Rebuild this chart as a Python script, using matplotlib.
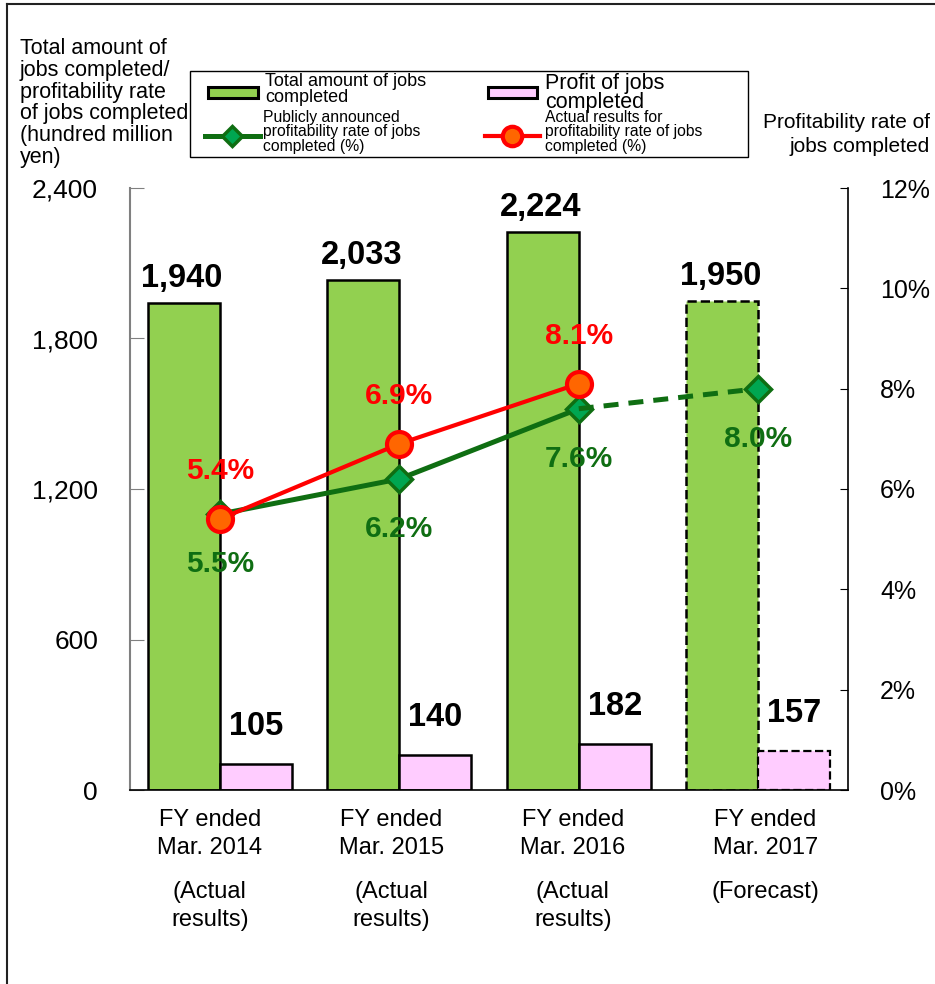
import numpy as np
import matplotlib
matplotlib.use("Agg")
import matplotlib.pyplot as plt
from matplotlib.patches import Rectangle
from matplotlib.lines import Line2D
from matplotlib.ticker import FuncFormatter

# Dane
okresy = ["FY ended\nMar. 2014", "FY ended\nMar. 2015", "FY ended\nMar. 2016", "FY ended\nMar. 2017"]
status = ["(Actual\nresults)", "(Actual\nresults)", "(Actual\nresults)", "(Forecast)"]
kwota_prac = [1940, 2033, 2224, 1950]
zysk_prac = [105, 140, 182, 157]
stopa_plan = [5.5, 6.2, 7.6, 8.0]
stopa_wykon = [5.4, 6.9, 8.1]
prognoza = [False, False, False, True]

W, H = 935, 984
plt.rcParams['font.family'] = ['Liberation Sans', 'DejaVu Sans']
waska = ['Liberation Sans Narrow', 'Liberation Sans', 'DejaVu Sans']

ZIELONY = '#92D050'
ROZOWY = '#FFCCFF'
CIEMNOZIELONY = '#0F6E12'
ROMB = '#00A651'
CZERWONY = '#FF0000'
POMARANCZ = '#FF6600'


def fx(px):
    return px / W


def fy(py):
    return 1 - py / H


fig = plt.figure(figsize=(W / 100, H / 100), dpi=100)
ax = fig.add_axes([fx(130), fy(790), fx(848) - fx(130), fy(188) - fy(790)])
ax2 = ax.twinx()

x = np.arange(len(okresy))
szer = 0.4

# Słupki
for i in x:
    styl = '--' if prognoza[i] else '-'
    ax.bar(x[i] - szer / 2, kwota_prac[i], szer, color=ZIELONY, edgecolor='black',
           linewidth=1.8, linestyle=styl, zorder=2)
    ax.bar(x[i] + szer / 2, zysk_prac[i], szer, color=ROZOWY, edgecolor='black',
           linewidth=1.8 if not prognoza[i] else 1.6, linestyle=styl, zorder=2)
    ax.annotate(f"{kwota_prac[i]:,}", (x[i] - szer / 2, kwota_prac[i]),
                xytext=(-2, 9), textcoords='offset pixels', ha='center', va='bottom',
                fontsize=23.5, fontweight='bold', family=waska)
    ax.annotate(f"{zysk_prac[i]:,}", (x[i] + szer / 2, zysk_prac[i]),
                xytext=(0, 22), textcoords='offset pixels', ha='center', va='bottom',
                fontsize=23.5, fontweight='bold', family=waska)

ax.set_xlim(-0.5, len(okresy) - 0.5)
ax.set_ylim(0, 2400)
ax.set_yticks(np.arange(0, 2401, 600))
ax.yaxis.set_major_formatter(FuncFormatter(lambda v, p: f"{int(v):,}"))
ax.tick_params(axis='y', direction='in', length=10, pad=23, labelsize=19, color='#808080')
ax.tick_params(axis='x', length=0, labelbottom=False)
ax.spines['top'].set_visible(False)
ax.spines['right'].set_visible(False)
ax.spines['left'].set_color('#808080')
ax.spines['left'].set_linewidth(1.5)
ax.spines['bottom'].set_linewidth(1.2)

# Linie wskaźników
n = len(stopa_wykon)
ax2.plot(x[:n], stopa_plan[:n], color=CIEMNOZIELONY, lw=3.6, marker='D', ms=13,
         mfc=ROMB, mec=CIEMNOZIELONY, mew=2.5, zorder=3)
ax2.plot(x[n - 1:], stopa_plan[n - 1:], color=CIEMNOZIELONY, lw=3.6, ls=(0, (3, 2)),
         marker='D', ms=13, mfc=ROMB, mec=CIEMNOZIELONY, mew=2.5, markevery=[1], zorder=3)
ax2.plot(x[:n], stopa_wykon, color=CZERWONY, lw=3, marker='o', ms=18,
         mfc=POMARANCZ, mec=CZERWONY, mew=3, zorder=4)

for i, v in enumerate(stopa_plan):
    ax2.annotate(f"{v:.1f}%", (x[i], v), xytext=(0, -50), textcoords='offset pixels',
                 ha='center', va='center', fontsize=21.5, fontweight='bold',
                 color=CIEMNOZIELONY, family=waska)
for i, v in enumerate(stopa_wykon):
    ax2.annotate(f"{v:.1f}%", (x[i], v), xytext=(0, 48), textcoords='offset pixels',
                 ha='center', va='center', fontsize=21.5, fontweight='bold',
                 color=CZERWONY, family=waska)

ax2.set_ylim(0, 12)
ax2.set_yticks(np.arange(0, 13, 2))
ax2.yaxis.set_major_formatter(FuncFormatter(lambda v, p: f"{int(v)}%"))
ax2.tick_params(axis='y', direction='in', length=6, pad=23, labelsize=18)
for t in ax2.get_yticklabels():
    t.set_family(waska)
for s in ['top', 'left', 'bottom']:
    ax2.spines[s].set_visible(False)
ax2.spines['right'].set_linewidth(1.2)

# Podpisy kategorii
przes = [-10, -8, -6, 7]
for i in x:
    ax.annotate(okresy[i], (x[i], 0), xycoords=('data', 'axes fraction'),
                xytext=(przes[i], -19), textcoords='offset pixels',
                ha='center', va='top', fontsize=17, linespacing=1.35)
    ax.annotate(status[i], (x[i], 0), xycoords=('data', 'axes fraction'),
                xytext=(przes[i], -91), textcoords='offset pixels',
                ha='center', va='top', fontsize=17, linespacing=1.35)

# Tytuły osi
fig.text(fx(20), fy(38), "Total amount of\njobs completed/\nprofitability rate\nof jobs completed\n(hundred million\nyen)",
         ha='left', va='top', fontsize=15.5, linespacing=1.05)
fig.text(fx(930), fy(113), "Profitability rate of\njobs completed",
         ha='right', va='top', fontsize=15, linespacing=1.3)

# Legenda
fig.add_artist(Rectangle((fx(190), fy(157)), fx(748) - fx(190), fy(71) - fy(157),
                         transform=fig.transFigure, fill=False, edgecolor='black', lw=1))
fig.add_artist(Rectangle((fx(208), fy(98)), fx(258) - fx(208), fy(87) - fy(98),
                         transform=fig.transFigure, facecolor=ZIELONY, edgecolor='black', lw=2.2))
fig.add_artist(Rectangle((fx(488), fy(98)), fx(537) - fx(488), fy(87) - fy(98),
                         transform=fig.transFigure, facecolor=ROZOWY, edgecolor='black', lw=2.2))
fig.add_artist(Line2D([fx(205), fx(260)], [fy(136), fy(136)], transform=fig.transFigure,
                      color=CIEMNOZIELONY, lw=3.6))
fig.add_artist(Line2D([fx(232)], [fy(136)], transform=fig.transFigure, marker='D', ms=10,
                      mfc=ROMB, mec=CIEMNOZIELONY, mew=2.5))
fig.add_artist(Line2D([fx(485), fx(540)], [fy(136), fy(136)], transform=fig.transFigure,
                      color=CZERWONY, lw=3))
fig.add_artist(Line2D([fx(512)], [fy(136)], transform=fig.transFigure, marker='o', ms=14,
                      mfc=POMARANCZ, mec=CZERWONY, mew=3))
fig.text(fx(265), fy(73), "Total amount of jobs\ncompleted", ha='left', va='top',
         fontsize=13, linespacing=0.95)
fig.text(fx(545), fy(73), "Profit of jobs\ncompleted", ha='left', va='top',
         fontsize=15.5, linespacing=0.9)
fig.text(fx(263), fy(110), "Publicly announced\nprofitability rate of jobs\ncompleted (%)",
         ha='left', va='top', fontsize=11.3, linespacing=0.95)
fig.text(fx(545), fy(110), "Actual results for\nprofitability rate of jobs\ncompleted (%)",
         ha='left', va='top', fontsize=11.3, linespacing=0.95)

# Ramka
fig.add_artist(Line2D([fx(7), fx(7)], [fy(4), 0], transform=fig.transFigure, color='#222222', lw=1.5))
fig.add_artist(Line2D([fx(7), 1], [fy(4), fy(4)], transform=fig.transFigure, color='#222222', lw=1.5))

fig.savefig("out.png", dpi=100)
